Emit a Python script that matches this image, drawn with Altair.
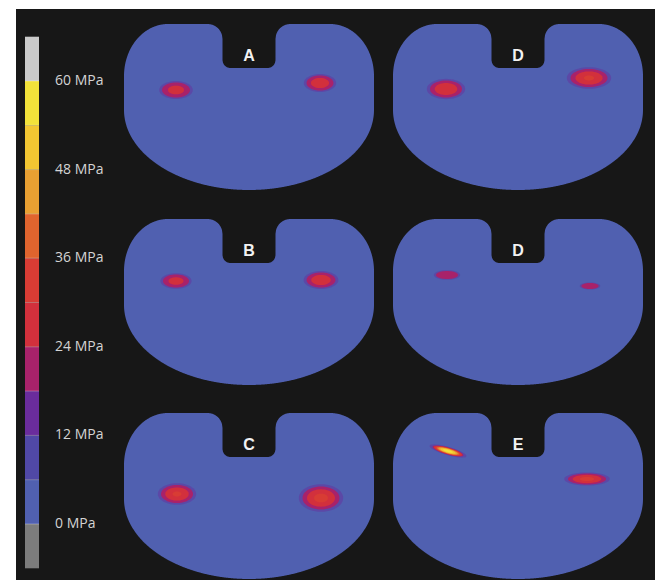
import altair as alt
import numpy as np
import pandas as pd

# ---------------- data ----------------
panel_labels = ["A", "D", "B", "D", "C", "E"]
panel_col = [0, 1, 0, 1, 0, 1]
panel_row = [0, 0, 1, 1, 2, 2]

# contact-stress spots (plateau coordinates, px from plateau left / top edge)
spot_panel = [0, 0, 1, 1, 2, 2, 3, 3, 4, 4, 5, 5]
spot_x = [52, 196, 53, 196, 52, 197, 54, 197, 53, 197, 55, 194]
spot_y = [66, 59, 65, 54, 62, 61, 56, 67, 81, 85, 38, 66]
spot_w = [28, 27, 32, 37, 26, 29, 22, 17, 32, 37, 32, 38]
spot_h = [15, 15, 17, 18, 13, 15, 8, 6, 18, 23, 7, 11]
spot_tilt = [0, 0, 0, 0, 0, 0, 0, 0, 0, 0, 16, 0]
spot_peak = [27, 29, 30, 31, 27, 29, 21, 20, 31, 32, 58, 32]   # MPa

base_stress = 3  # MPa, plateau background band

stress_thresholds = [0, 6, 12, 18, 24, 30, 36, 42, 48, 54, 60]
stress_colors = ["#7c7c7c", "#5060b0", "#5048a6", "#6a2c9c", "#a8226a", "#d2303c",
                 "#d83c34", "#e0642e", "#e9a032", "#f2c632", "#f2e23a", "#cacaca"]
colorbar_ticks = [0, 12, 24, 36, 48, 60]

# ---------------- layout ----------------
W, H = 639, 571
col_x0 = [108, 377]
row_y0 = [15, 210, 404]
PW, CRX, CRY = 250.0, 44.0, 52.0          # plateau width, outer corner radii
NL, NB, RC, RI = 98.5, 44.0, 15.0, 8.0    # notch left, notch depth, corner radii
BY, BB = 86.0, 80.0                       # bottom ellipse centre / semi-axis
cb_x0, cb_x1, cb_lbl_x = 9, 23, 39
cb_k = (524 - 81) / 60.0
cb_zero = 515.0
mpa_domain = [(cb_zero - H) / cb_k, cb_zero / cb_k]


def top_edge(x):
    u = min(x, PW - x)
    if u < CRX:
        return CRY - CRY * np.sqrt(max(0.0, 1 - ((CRX - u) / CRX) ** 2))
    if u < NL - RC:
        return 0.0
    if u <= NL:
        return RC - np.sqrt(max(0.0, RC ** 2 - (u - (NL - RC)) ** 2))
    if u < NL + RI:
        return (NB - RI) + np.sqrt(max(0.0, RI ** 2 - (NL + RI - u) ** 2))
    return NB


def bottom_edge(x):
    return BY + BB * np.sqrt(max(0.0, 1 - ((x - PW / 2) / (PW / 2)) ** 2))


xs_s = np.concatenate([
    np.linspace(0, PW, 501),
    PW / 2 - PW / 2 * np.cos(np.linspace(0, np.pi, 241)),
    [NL - 1e-3, NL + 1e-3, PW - NL - 1e-3, PW - NL + 1e-3],
])
xs_s = np.unique(np.round(xs_s, 4))

rows = []
for p in range(len(panel_labels)):
    ox, oy = col_x0[panel_col[p]], row_y0[panel_row[p]]
    for x in xs_s:
        rows.append({"panel": p, "x": ox + x, "top": oy + top_edge(x),
                     "bot": oy + bottom_edge(x), "stress": base_stress})
plate_df = pd.DataFrame(rows)


def ellipse_path(aspect, n=48):
    t = np.linspace(0, 2 * np.pi, n, endpoint=False)
    pts = ["%.3f,%.3f" % (np.cos(a), aspect * np.sin(a)) for a in t]
    return "M" + "L".join(pts) + "Z"


ring_rows = []
for k in range(len(spot_panel)):
    p = spot_panel[k]
    ox, oy = col_x0[panel_col[p]], row_y0[panel_row[p]]
    peak = spot_peak[k]
    path = ellipse_path(spot_h[k] / spot_w[k])
    # soft halo (blurred transition to the plateau)
    ring_rows.append({"x": ox + spot_x[k], "y": oy + spot_y[k], "path": path,
                      "size": (spot_w[k] * 1.2) ** 2, "tilt": spot_tilt[k],
                      "level": 12, "alpha": 0.45})
    for L in range(18, int(peak) + 1, 6):
        s = 1.0 if L == 18 else np.sqrt((peak - L) / (peak - 18))
        ring_rows.append({"x": ox + spot_x[k], "y": oy + spot_y[k], "path": path,
                          "size": (spot_w[k] * s) ** 2, "tilt": spot_tilt[k],
                          "level": L, "alpha": 1.0})
ring_df = pd.DataFrame(ring_rows).sort_values("level", kind="stable")

label_df = pd.DataFrame({
    "x": [col_x0[c] + PW / 2 for c in panel_col],
    "y": [row_y0[r] + 32 for r in panel_row],
    "label": panel_labels,
})

band_lo = [-6] + stress_thresholds
cb_df = pd.DataFrame({"lo": band_lo, "hi": [b + 6 for b in band_lo],
                      "mid": [b + 3 for b in band_lo], "x0": cb_x0, "x1": cb_x1})
sep_df = pd.DataFrame({"v": stress_thresholds, "x0": cb_x0, "x1": cb_x1})
tick_df = pd.DataFrame({"v": colorbar_ticks, "x": cb_lbl_x,
                        "label": ["%d MPa" % v for v in colorbar_ticks]})

# ---------------- scales ----------------
xsc = alt.Scale(domain=[0, W], nice=False, zero=False)
ypx = alt.Scale(domain=[0, H], reverse=True, nice=False, zero=False)
ympa = alt.Scale(domain=mpa_domain, nice=False, zero=False)
csc = alt.Scale(type="threshold", domain=stress_thresholds, range=stress_colors)

plates = alt.Chart(plate_df).mark_area(opacity=1).encode(
    x=alt.X("x:Q", scale=xsc, axis=None),
    y=alt.Y("top:Q", scale=ypx, axis=None),
    y2="bot:Q",
    color=alt.Color("stress:Q", scale=csc, legend=None),
    detail="panel:N",
)

rings = alt.Chart(ring_df).mark_point(filled=True, strokeWidth=0).encode(
    x=alt.X("x:Q", scale=xsc, axis=None),
    y=alt.Y("y:Q", scale=ypx, axis=None),
    shape=alt.Shape("path:N", scale=None),
    size=alt.Size("size:Q", scale=None),
    angle=alt.Angle("tilt:Q", scale=None),
    color=alt.Color("level:Q", scale=csc, legend=None),
    opacity=alt.Opacity("alpha:Q", scale=None),
    order="level:Q",
)

letters = alt.Chart(label_df).mark_text(
    font="Liberation Sans", fontWeight="bold", fontSize=16, color="#f2f2f2",
    align="center", baseline="middle").encode(
    x=alt.X("x:Q", scale=xsc, axis=None),
    y=alt.Y("y:Q", scale=ypx, axis=None),
    text="label:N",
)

cbar = alt.Chart(cb_df).mark_rect().encode(
    x=alt.X("x0:Q", scale=xsc, axis=None), x2="x1:Q",
    y=alt.Y("lo:Q", scale=ympa, axis=None), y2="hi:Q",
    color=alt.Color("mid:Q", scale=csc, legend=None),
)

cseps = alt.Chart(sep_df).mark_rule(color="#ffffff", opacity=0.3, strokeWidth=1).encode(
    x=alt.X("x0:Q", scale=xsc, axis=None), x2="x1:Q",
    y=alt.Y("v:Q", scale=ympa, axis=None),
)

cticks = alt.Chart(tick_df).mark_text(
    font="Open Sans", fontSize=14, color="#d4d4d4", align="left", baseline="middle").encode(
    x=alt.X("x:Q", scale=xsc, axis=None),
    y=alt.Y("v:Q", scale=ympa, axis=None),
    text="label:N",
)

chart = alt.layer(plates, rings, letters, cbar, cseps, cticks).resolve_scale(
    y="independent"
).properties(
    width=W, height=H, background="white",
    padding={"left": 8, "top": 1, "right": 0, "bottom": 0},
).configure_view(fill="#171717", stroke=None)

chart.save("out.html", embed_options={"renderer": "svg", "actions": False})
